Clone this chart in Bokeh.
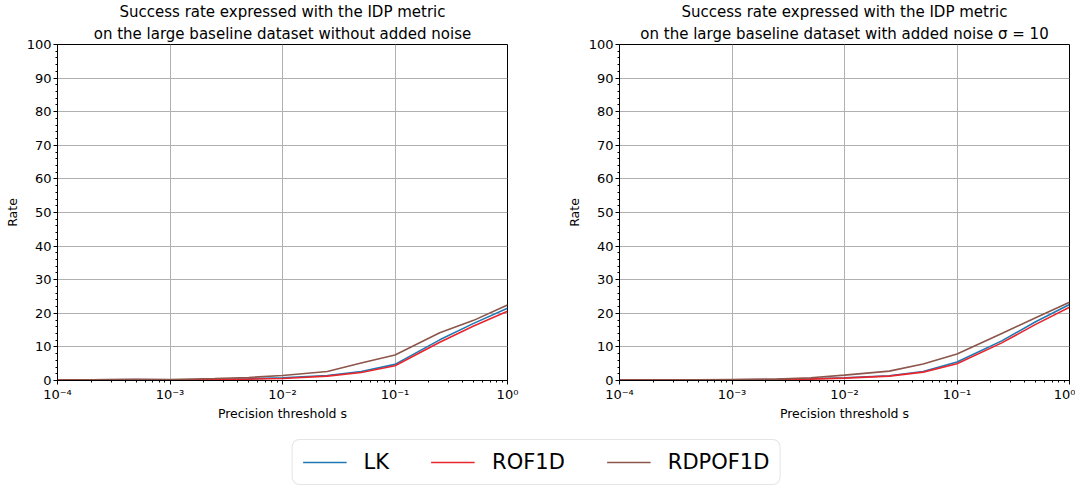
from bokeh.plotting import figure
from bokeh.models import (Range1d, FixedTicker, SingleIntervalTicker, CustomJSTickFormatter,
                          Title, Legend, LegendItem)
from bokeh.layouts import column, row
from bokeh.embed import file_html
from bokeh.resources import INLINE

# ---- data ----
thresholds = [1e-4, 2e-4, 5e-4, 1e-3, 2.5e-3, 5e-3, 1e-2, 2.5e-2, 5e-2, 1e-1, 2.5e-1, 5e-1, 1.0]

left_LK      = [0.1, 0.2, 0.3, 0.2, 0.3, 0.5, 0.8, 1.5, 2.7, 4.8, 12.1, 17.0, 21.5]
left_ROF1D   = [0.1, 0.2, 0.3, 0.2, 0.3, 0.4, 0.6, 1.3, 2.4, 4.4, 11.4, 16.2, 20.6]
left_RDPOF1D = [0.1, 0.2, 0.3, 0.3, 0.6, 0.9, 1.5, 2.7, 5.2, 7.6, 14.2, 17.9, 22.5]

right_LK      = [0.1, 0.1, 0.2, 0.2, 0.3, 0.5, 0.8, 1.4, 2.7, 5.5, 11.8, 17.5, 22.6]
right_ROF1D   = [0.1, 0.1, 0.2, 0.2, 0.3, 0.4, 0.7, 1.3, 2.5, 5.0, 11.2, 16.7, 21.8]
right_RDPOF1D = [0.1, 0.1, 0.2, 0.3, 0.4, 0.8, 1.6, 2.8, 4.9, 7.9, 14.0, 18.7, 23.3]

series_names = ["LK", "ROF1D", "RDPOF1D"]
colors = ["#1f77b4", "#e8262d", "#8c564b"]

titles_left = ["Success rate expressed with the IDP metric",
               "on the large baseline dataset without added noise"]
titles_right = ["Success rate expressed with the IDP metric",
                "on the large baseline dataset with added noise σ = 10"]

x_major = [1e-4, 1e-3, 1e-2, 1e-1, 1.0]
x_minor = [m * 10.0 ** e for e in range(-4, 0) for m in range(2, 10)]

FONT = "DejaVu Sans"

fmt_code = """
const e = Math.round(Math.log10(tick));
const sup = {"-":"\u207b","0":"\u2070","1":"\u00b9","2":"\u00b2","3":"\u00b3","4":"\u2074","5":"\u2075","6":"\u2076","7":"\u2077","8":"\u2078","9":"\u2079"};
return "10" + String(e).split("").map(c => sup[c]).join("");
"""


def make_plot(title_lines, ys, border_left, border_right):
    p = figure(frame_width=450, frame_height=336, x_axis_type="log",
               x_range=Range1d(1e-4, 1.0), y_range=Range1d(0, 100),
               output_backend="svg", toolbar_location=None, title=None,
               min_border_left=border_left, min_border_right=border_right,
               min_border_top=36, min_border_bottom=58)
    p.add_layout(Title(text=title_lines[1], align="center", text_font_size="15px",
                       text_font_style="normal", text_font=FONT, text_color="black",
                       offset=0, standoff=4), "above")
    p.add_layout(Title(text=title_lines[0], align="center", text_font_size="15px",
                       text_font_style="normal", text_font=FONT, text_color="black",
                       standoff=0), "above")
    p.xaxis.ticker = FixedTicker(ticks=x_major, minor_ticks=x_minor)
    p.xaxis.formatter = CustomJSTickFormatter(code=fmt_code)
    p.yaxis.ticker = SingleIntervalTicker(interval=10, num_minor_ticks=5)
    p.xaxis.axis_label = "Precision threshold s"
    p.yaxis.axis_label = "Rate"
    for ax in (p.xaxis[0], p.yaxis[0]):
        ax.axis_label_text_font = FONT
        ax.axis_label_text_font_size = "12.5px"
        ax.axis_label_text_font_style = "normal"
        ax.axis_label_text_color = "black"
        ax.major_label_text_font = FONT
        ax.major_label_text_font_size = "13px"
        ax.major_label_text_color = "black"
        ax.major_tick_in = 0
        ax.major_tick_out = 4
        ax.minor_tick_in = 0
        ax.minor_tick_out = 2
        ax.axis_line_color = "black"
        ax.major_tick_line_color = "black"
        ax.minor_tick_line_color = "black"
        ax.major_label_standoff = 2
    p.xaxis[0].axis_label_standoff = 1
    p.yaxis[0].axis_label_standoff = 4
    p.outline_line_color = "black"
    p.outline_line_width = 1
    p.xgrid.grid_line_color = "#b0b0b0"
    p.ygrid.grid_line_color = "#b0b0b0"
    p.xgrid.grid_line_width = 1
    p.ygrid.grid_line_width = 1
    for name, y, c in zip(series_names, ys, colors):
        p.line(thresholds, y, line_color=c, line_width=1.6)
    return p


p1 = make_plot(titles_left, [left_LK, left_ROF1D, left_RDPOF1D], 57, 56)
p2 = make_plot(titles_right, [right_LK, right_ROF1D, right_RDPOF1D], 53, 6)

# legend figure
lf = figure(width=1072, height=48, output_backend="svg", toolbar_location=None,
            x_range=Range1d(0, 1), y_range=Range1d(0, 1),
            min_border=0)
lf.axis.visible = False
lf.grid.visible = False
lf.outline_line_color = None
items = []
for name, c in zip(series_names, colors):
    r = lf.line([5, 6], [5, 6], line_color=c, line_width=1.6)
    items.append(LegendItem(label=name, renderers=[r]))
leg = Legend(items=items, orientation="horizontal", location="bottom_center",
             label_text_font=FONT, label_text_font_size="21px", label_text_color="black",
             glyph_width=44, spacing=42, padding=10, margin=1,
             label_standoff=17, border_line_color="#cccccc", border_line_width=1)
if "border_radius" in Legend.properties():
    leg.border_radius = 8
lf.add_layout(leg, "center")

layout = column(row(p1, p2), lf)
open("out.html", "w").write(file_html(layout, INLINE))
